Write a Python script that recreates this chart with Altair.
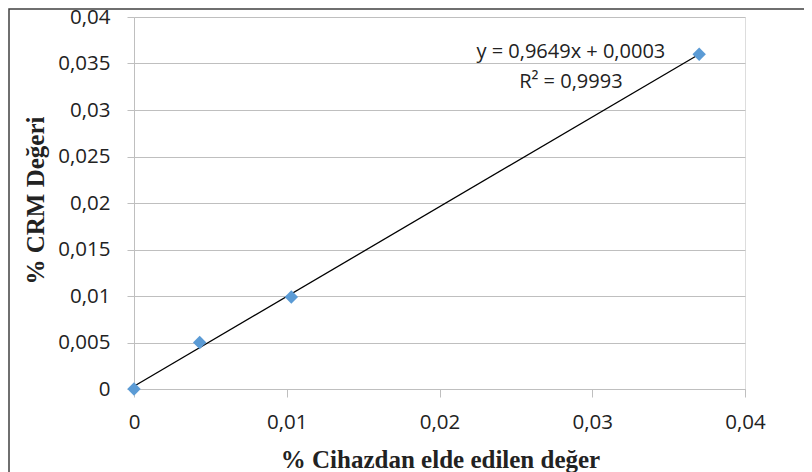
import altair as alt
import pandas as pd

x_vals = [0.0, 0.0043, 0.0103, 0.0370]
y_vals = [0.0, 0.0050, 0.0099, 0.0360]

# trendline from the equation shown on the chart
slope = 0.9649
intercept = 0.0003
fit_x = [0.0, 0.0370]

eq_lines = ["y = 0,9649x + 0,0003", "R² = 0,9993"]
eq_x = [0.0286, 0.0286]
eq_y = [0.0362, 0.0330]

x_ticks = [0, 0.01, 0.02, 0.03, 0.04]
y_ticks = [0, 0.005, 0.01, 0.015, 0.02, 0.025, 0.03, 0.035, 0.04]

pts = pd.DataFrame({"x": x_vals, "y": y_vals})
fit = pd.DataFrame({"x": fit_x, "y": [slope * v + intercept for v in fit_x]})
eq = pd.DataFrame({"x": eq_x, "y": eq_y, "t": eq_lines})

label_expr = "replace(format(datum.value, '~g'), '.', ',')"

xscale = alt.Scale(domain=[0, 0.04], nice=False, zero=False)
yscale = alt.Scale(domain=[0, 0.04], nice=False, zero=False)

x_axis = alt.Axis(
    values=x_ticks, labelExpr=label_expr, grid=False, tickSize=8,
    labelPadding=15, labelFont="Open Sans", labelFontSize=20.5, labelColor="#222222",
    title="% Cihazdan elde edilen değer", titleFont="Liberation Serif",
    titleFontWeight="bold", titleFontSize=25, titleColor="#222222",
    titleX=306, titleY=78, titleBaseline="alphabetic", titleAlign="center",
    domainColor="#BFBFBF", tickColor="#BFBFBF", labelFlush=False,
)
y_axis = alt.Axis(
    values=y_ticks, labelExpr=label_expr, grid=True, gridColor="#BFBFBF", tickSize=7,
    labelPadding=17, labelFont="Open Sans", labelFontSize=20.5, labelColor="#222222",
    title="% CRM Değeri", titleFont="Liberation Serif",
    titleFontWeight="bold", titleFontSize=25, titleColor="#222222",
    titleX=-91, titleY=183, titleAngle=270, titleBaseline="alphabetic", titleAlign="center",
    domainColor="#BFBFBF", tickColor="#BFBFBF", labelFlush=False,
)

border = alt.Chart(pd.DataFrame({"a": [0]})).mark_rect(
    fill=None, stroke="#404040", strokeWidth=1.5
).encode(
    x=alt.value(-125), y=alt.value(-8), x2=alt.value(900), y2=alt.value(600)
)

line = alt.Chart(fit).mark_line(color="#000000", strokeWidth=1.3).encode(
    x=alt.X("x:Q", scale=xscale, axis=x_axis),
    y=alt.Y("y:Q", scale=yscale, axis=y_axis),
)

points = alt.Chart(pts).mark_point(
    shape="diamond", filled=True, size=180, color="#5B9BD5", opacity=1
).encode(x=alt.X("x:Q", scale=xscale), y=alt.Y("y:Q", scale=yscale))

text = alt.Chart(eq).mark_text(
    font="Open Sans", fontSize=20, color="#222222", align="center", baseline="middle"
).encode(x=alt.X("x:Q", scale=xscale), y=alt.Y("y:Q", scale=yscale), text="t:N")

chart = alt.layer(border, line, points, text).properties(
    width=611, height=372,
    autosize=alt.AutoSizeParams(type="none"),
    padding={"left": 126, "top": 9, "right": 59, "bottom": 95},
).configure_view(stroke=None).configure(background="white")

chart.save("out.html", embed_options={"renderer": "svg", "actions": False})
